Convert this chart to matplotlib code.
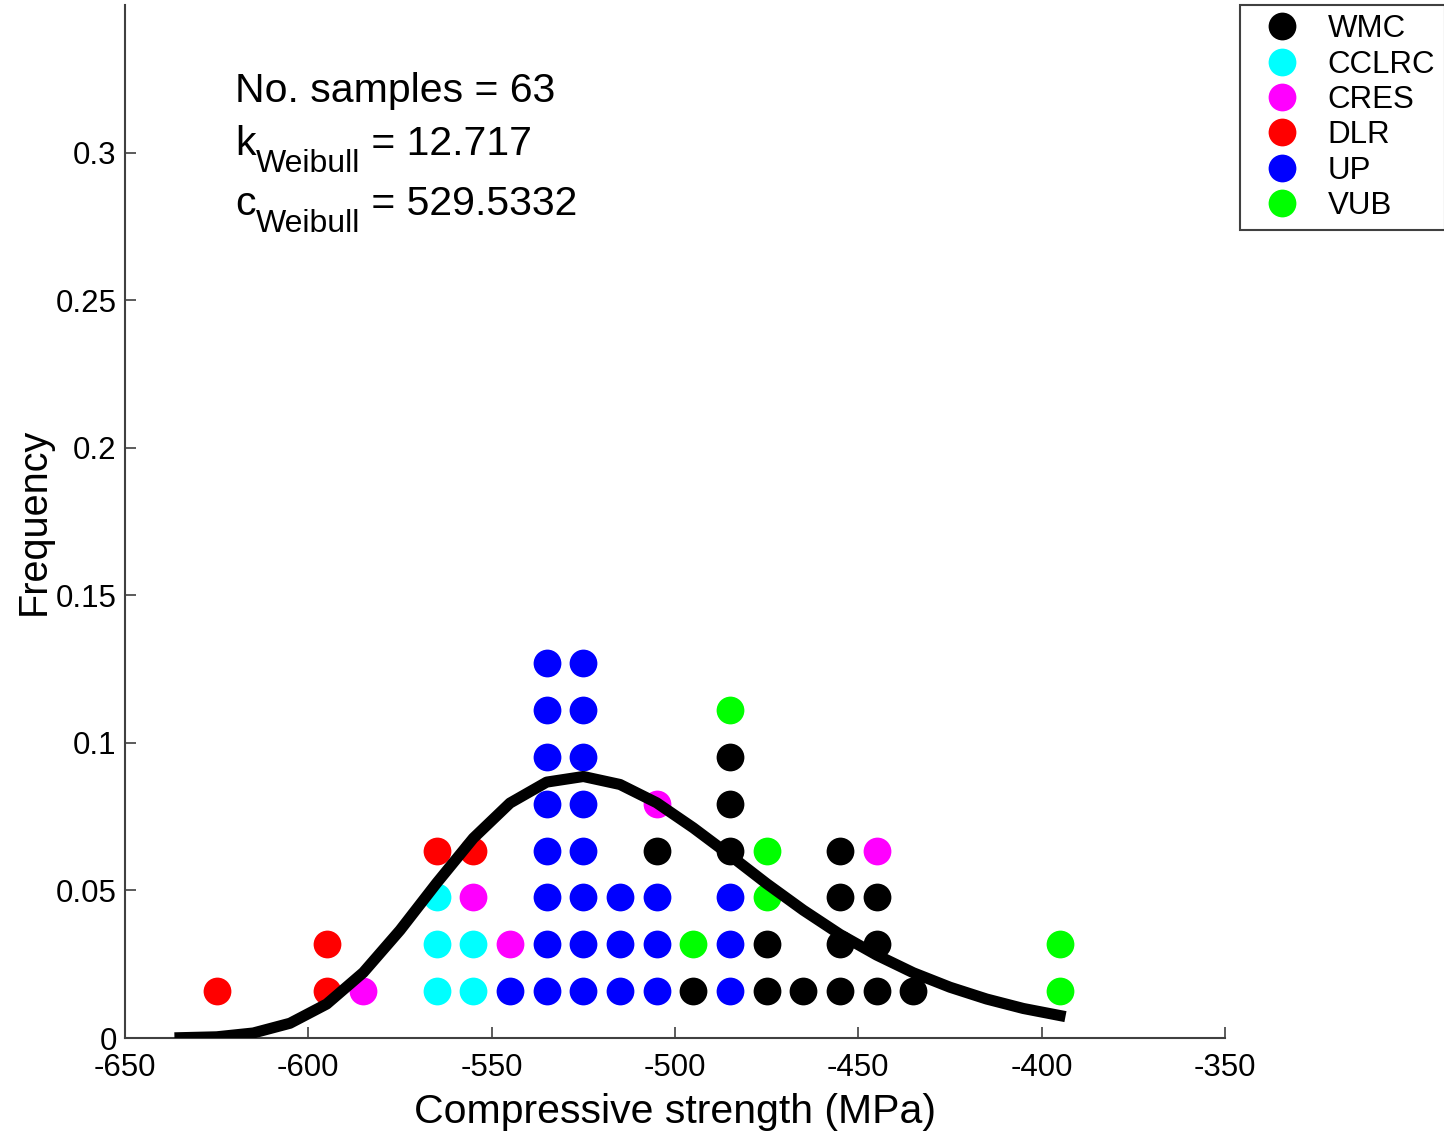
import matplotlib
matplotlib.use("Agg")
import matplotlib.pyplot as plt
from matplotlib.lines import Line2D

plt.rcParams['font.family'] = ['Liberation Sans', 'DejaVu Sans']
plt.rcParams['axes.unicode_minus'] = False

# histogram bins (MPa) and which lab each stacked sample belongs to (bottom -> top)
bin_centers = [-625, -595, -585, -565, -555, -545, -535, -525, -515,
               -505, -495, -485, -475, -465, -455, -445, -435, -395]
stacks = [
    ['DLR'],
    ['DLR', 'DLR'],
    ['CRES'],
    ['CCLRC', 'CCLRC', 'CCLRC', 'DLR'],
    ['CCLRC', 'CCLRC', 'CRES', 'DLR'],
    ['UP', 'CRES'],
    ['UP'] * 8,
    ['UP'] * 8,
    ['UP'] * 3,
    ['UP', 'UP', 'UP', 'WMC', 'CRES'],
    ['WMC', 'VUB'],
    ['UP', 'UP', 'UP', 'WMC', 'WMC', 'WMC', 'VUB'],
    ['WMC', 'WMC', 'VUB', 'VUB'],
    ['WMC'],
    ['WMC'] * 4,
    ['WMC', 'WMC', 'WMC', 'CRES'],
    ['WMC'],
    ['VUB', 'VUB'],
]
n_samples = 63

labs = ['WMC', 'CCLRC', 'CRES', 'DLR', 'UP', 'VUB']
lab_colors = {'WMC': '#000000', 'CCLRC': '#00FFFF', 'CRES': '#FF00FF',
              'DLR': '#FF0000', 'UP': '#0000FF', 'VUB': '#00FF00'}

# fitted weibull curve (frequency per 10 MPa bin)
curve_x = [-635, -625, -615, -605, -595, -585, -575, -565, -555, -545, -535, -525,
           -515, -505, -495, -485, -475, -465, -455, -445, -435, -425, -415, -405, -395]
curve_y = [0.0001, 0.0004, 0.0017, 0.0050, 0.0115, 0.0222, 0.0365, 0.0525, 0.0677,
           0.0796, 0.0867, 0.0886, 0.0859, 0.0797, 0.0712, 0.0619, 0.0523, 0.0433,
           0.0351, 0.0281, 0.0221, 0.0172, 0.0132, 0.0100, 0.0076]

fig = plt.figure(figsize=(14.44, 11.33), dpi=100)
ax = fig.add_axes([125/1444, 1 - 1038/1133, 1100/1444, 1033/1133])

for xc, st in zip(bin_centers, stacks):
    for i, lab in enumerate(st):
        ax.plot(xc, (i + 1) / n_samples, 'o', color=lab_colors[lab],
                markersize=20, markeredgewidth=0, zorder=2)

ax.plot(curve_x, curve_y, '-', color='k', linewidth=8, zorder=3)

ax.set_xlim(-650, -350)
ax.set_ylim(0, 0.35)
ax.set_xticks(range(-650, -349, 50))
ax.set_yticks([0, 0.05, 0.1, 0.15, 0.2, 0.25, 0.3])
ax.set_yticklabels(['0', '0.05', '0.1', '0.15', '0.2', '0.25', '0.3'])
ax.spines['top'].set_visible(False)
ax.spines['right'].set_visible(False)
for s in ['left', 'bottom']:
    ax.spines[s].set_color('#404040')
    ax.spines[s].set_linewidth(1.5)
ax.tick_params(direction='in', length=8, width=1.2, color='#404040',
               labelsize=22.5)
ax.tick_params(axis='x', pad=11)
ax.tick_params(axis='y', pad=6)
ax.set_xlabel('Compressive strength (MPa)', fontsize=29.5, labelpad=7)
ax.set_ylabel('Frequency', fontsize=28.5, labelpad=2)

# fit info text
fs = 29.5
sub_fs = 23
ax.text(-620, 0.317, 'No. samples = 63', fontsize=fs, va='baseline')
for yb, sym, val in [(0.2993, 'k', ' = 12.717'), (0.279, 'c', ' = 529.5332')]:
    t = ax.text(-620, yb, sym, fontsize=fs, va='baseline')
    s = ax.annotate('Weibull', xy=(1, 0), xycoords=t, xytext=(0, -12),
                    textcoords='offset points', fontsize=sub_fs, va='bottom')
    ax.annotate(val, xy=(1, 0), xycoords=(s, t), fontsize=fs, va='bottom')

handles = [Line2D([], [], linestyle='none', marker='o', markersize=20,
                  markeredgewidth=0, color=lab_colors[l]) for l in labs]
leg = fig.legend(handles, labs, loc='upper left',
                 bbox_to_anchor=(1240/1444, 1 - 5/1133), borderaxespad=0,
                 fontsize=22.5, handlelength=2.1, handletextpad=0.41,
                 borderpad=0.3, labelspacing=0.17, fancybox=False, framealpha=1)
leg.get_frame().set_edgecolor('#404040')
leg.get_frame().set_linewidth(1.5)

fig.savefig('out.png', dpi=100)
